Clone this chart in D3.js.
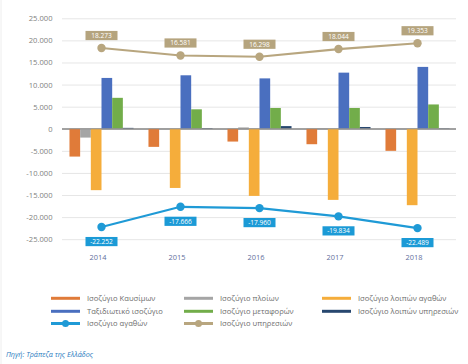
<!DOCTYPE html>
<html>
<head>
<meta charset="utf-8">
<script src="https://cdn.jsdelivr.net/npm/d3@7"></script>
<style>
  html, body { margin: 0; padding: 0; background: #fff; }
  svg { display: block; }
  text { font-family: "Open Sans", "DejaVu Sans", sans-serif; }
</style>
</head>
<body>
<svg id="chart" width="468" height="364"></svg>
<script>
const years = ["2014", "2015", "2016", "2017", "2018"];
const barSeries = ["Ισοζύγιο Καυσίμων", "Ισοζύγιο πλοίων", "Ισοζύγιο λοιπών αγαθών",
                   "Ταξιδιωτικό ισοζύγιο", "Ισοζύγιο μεταφορών", "Ισοζύγιο λοιπών υπηρεσιών"];
const fuel      = [-6300, -4100, -2900, -3500, -5000];
const ships     = [-2000, -100, 300, 100, -100];
const otherGoods= [-13900, -13400, -15200, -16100, -17300];
const travel    = [11500, 12100, 11400, 12700, 14000];
const transport = [7000, 4400, 4700, 4700, 5500];
const otherServ = [200, 150, 600, 400, 100];
const goods     = [-22252, -17666, -17960, -19834, -22489];
const services  = [18273, 16581, 16298, 18044, 19353];
const goodsLabels    = ["-22.252", "-17.666", "-17.960", "-19.834", "-22.489"];
const servicesLabels = ["18.273", "16.581", "16.298", "18.044", "19.353"];
const yTicks = [25000, 20000, 15000, 10000, 5000, 0, -5000, -10000, -15000, -20000, -25000];
const lineSeries = ["Ισοζύγιο αγαθών", "Ισοζύγιο υπηρεσιών"];

const barValues = [fuel, ships, otherGoods, travel, transport, otherServ];
const barColors = ["#e07b39", "#a5a5a5", "#f5ad3b", "#4a6fbf", "#72ad4a", "#27476f"];
const goodsColor = "#1f9ad6";
const servColor = "#b8a67f";

const svg = d3.select("#chart");

// border
svg.append("line").attr("x1", 1).attr("x2", 1).attr("y1", 0).attr("y2", 364)
  .attr("stroke", "#eeeeee").attr("stroke-width", 1);

const loc = d3.formatLocale({decimal: ",", thousands: ".", grouping: [3], currency: ["", "€"], minus: "-"});
const fmt = loc.format(",.0f");

const x0 = d3.scaleBand().domain(years).range([62, 457]).padding(0);
const x1 = d3.scaleBand().domain(barSeries).range([0, x0.bandwidth()]).paddingInner(0).paddingOuter(0.7);
const y = d3.scaleLinear().domain([-25000, 25000]).range([239.2, 18.3]);

// gridlines
const yAxis = d3.axisLeft(y).tickValues(yTicks).tickSize(-(456 - 62)).tickFormat(fmt).tickPadding(10);
const gy = svg.append("g").attr("transform", "translate(62,0)").call(yAxis);
gy.select(".domain").remove();
gy.selectAll(".tick line").attr("stroke", d => d === 0 ? "#8c8c8c" : "#e6e6e6").attr("stroke-width", 1);
gy.selectAll(".tick text").attr("fill", "#7f7f7f").attr("font-size", 7.6).attr("x", -9.5);

// bars
const gBars = svg.append("g");
years.forEach((yr, i) => {
  barSeries.forEach((s, j) => {
    const v = barValues[j][i];
    gBars.append("rect")
      .attr("x", x0(yr) + x1(s))
      .attr("width", x1.bandwidth())
      .attr("y", y(Math.max(0, v)))
      .attr("height", Math.abs(y(v) - y(0)))
      .attr("fill", barColors[j]);
  });
});
// zero line on top
svg.append("line").attr("x1", 62).attr("x2", 456).attr("y1", y(0)).attr("y2", y(0))
  .attr("stroke", "#8c8c8c").attr("stroke-width", 1);

const cx = d => x0(d) + x0.bandwidth() / 2;

function drawLine(vals, color, labels, bg, dy) {
  const line = d3.line().x((d, i) => cx(years[i])).y(d => y(d));
  svg.append("path").datum(vals).attr("d", line).attr("fill", "none")
    .attr("stroke", color).attr("stroke-width", 2.2).attr("stroke-linejoin", "round");
  vals.forEach((v, i) => {
    svg.append("circle").attr("cx", cx(years[i])).attr("cy", y(v)).attr("r", 4.2).attr("fill", color);
    const bx = cx(years[i]), by = y(v) + dy;
    svg.append("rect").attr("x", bx - 16).attr("y", by - 4.6).attr("width", 32).attr("height", 9.2).attr("fill", bg);
    svg.append("text").attr("x", bx).attr("y", by + 2.3).attr("text-anchor", "middle")
      .attr("font-size", 6.6).attr("fill", "#ffffff").text(labels[i]);
  });
}
drawLine(services, servColor, servicesLabels, "#b5a47e", -12.5);
drawLine(goods, goodsColor, goodsLabels, "#1b9ad6", 14.5);

// x labels
years.forEach(yr => {
  svg.append("text").attr("x", cx(yr) - 3.5).attr("y", 259.5).attr("text-anchor", "middle")
    .attr("font-size", 7.4).attr("fill", "#5f6f9c").text(yr);
});

// legend
const legendItems = [
  {name: barSeries[0], color: barColors[0], dot: false},
  {name: barSeries[1], color: barColors[1], dot: false},
  {name: barSeries[2], color: barColors[2], dot: false},
  {name: barSeries[3], color: barColors[3], dot: false},
  {name: barSeries[4], color: barColors[4], dot: false},
  {name: barSeries[5], color: barColors[5], dot: false},
  {name: lineSeries[0], color: goodsColor, dot: true},
  {name: lineSeries[1], color: servColor, dot: true}
];
const colX = [51, 184, 322];
const rowY = [298.3, 311.3, 323.5];
legendItems.forEach((it, k) => {
  const c = k % 3, r = Math.floor(k / 3);
  const lx = colX[c], ly = rowY[r];
  svg.append("line").attr("x1", lx).attr("x2", lx + 29).attr("y1", ly).attr("y2", ly)
    .attr("stroke", it.color).attr("stroke-width", 3);
  if (it.dot) svg.append("circle").attr("cx", lx + 14.5).attr("cy", ly).attr("r", 3.5).attr("fill", it.color);
  svg.append("text").attr("x", lx + 36).attr("y", ly + 2.7).attr("font-size", 7.6)
    .attr("fill", "#6e6e6e").text(it.name);
});

// source
svg.append("text").attr("x", 6).attr("y", 356.5).attr("font-size", 7.2).attr("font-style", "italic")
  .attr("fill", "#2a7dc0").text("Πηγή: Τράπεζα της Ελλάδος");
</script>
</body>
</html>
